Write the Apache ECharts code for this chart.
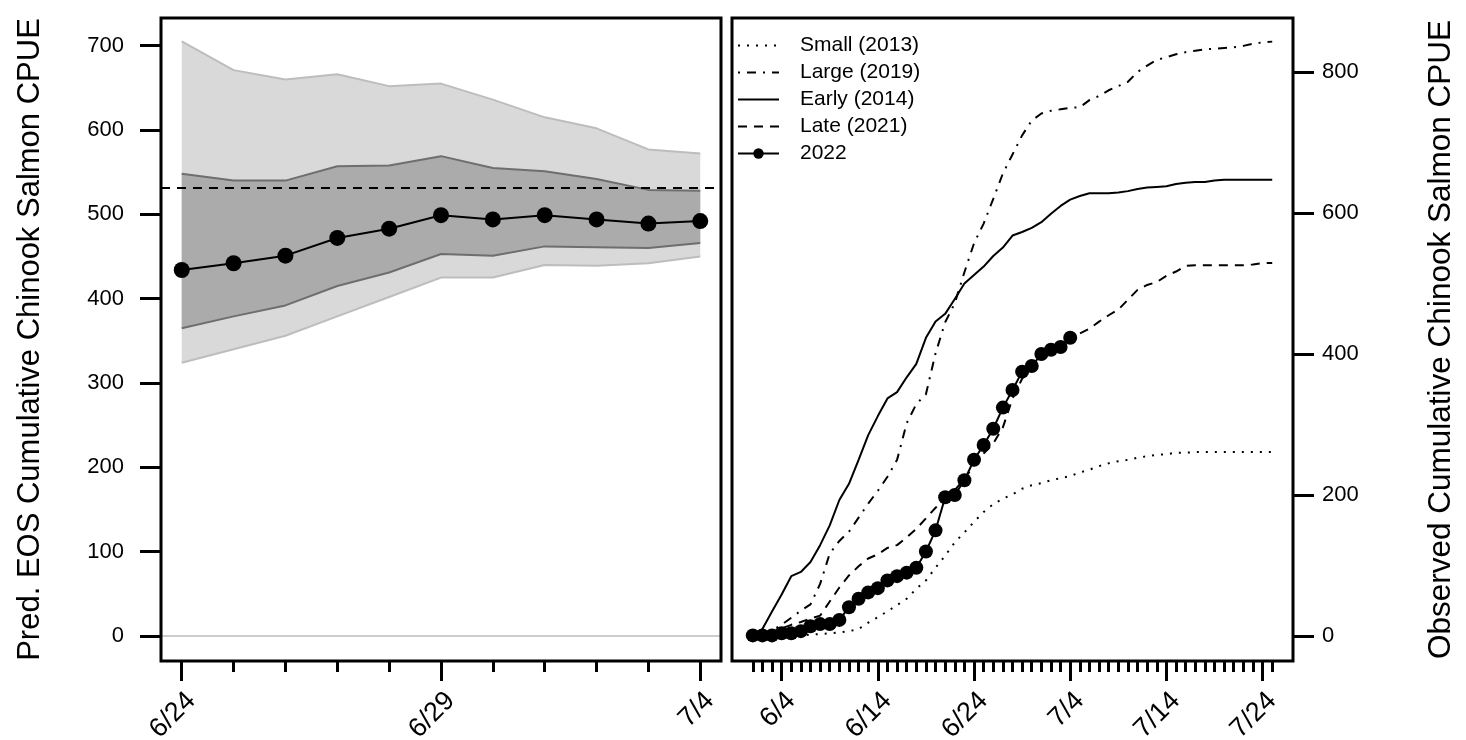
<!DOCTYPE html>
<html><head><meta charset="utf-8">
<script src="https://cdn.jsdelivr.net/npm/echarts@6/dist/echarts.min.js"></script>
<style>html,body{margin:0;padding:0;background:#fff}#c{width:1466px;height:740px}</style>
</head><body><div id="c"></div>
<script>
// ---------- Left panel data (prediction of end-of-season CPUE) ----------
const leftDates   = ['6/24','6/25','6/26','6/27','6/28','6/29','6/30','7/1','7/2','7/3','7/4'];
const leftTickMajor = [0, 5, 10];
const leftTickMinor = [1, 2, 3, 4, 6, 7, 8, 9];
const pred2022    = [434, 442, 451, 472, 483, 499, 494, 499, 494, 489, 492];
const ci50Upper   = [548, 540, 540, 557, 558, 569, 555, 551, 542, 529, 528];
const ci50Lower   = [365, 379, 392, 415, 431, 453, 451, 462, 461, 460, 466];
const ci90Upper   = [705, 671, 660, 666, 652, 655, 636, 615, 602, 577, 572];
const ci90Lower   = [324, 340, 356, 379, 402, 425, 425, 440, 439, 442, 450];
const eosReference = 532;
const leftYTicks  = [0, 100, 200, 300, 400, 500, 600, 700];

// ---------- Right panel data (observed cumulative CPUE, day 0 = 6/1) ----------
const rightTickDays   = [3, 13, 23, 33, 43, 53];
const rightTickLabels = ['6/4', '6/14', '6/24', '7/4', '7/14', '7/24'];
const rightYTicks     = [0, 200, 400, 600, 800];
const small2013 = [0,0,0,1,1,1,2,3,4,5,7,10,19,27,35,44,53,67,79,97,114,133,147,162,176,187,195,201,209,214,217,221,224,227,232,236,241,245,248,250,253,255,257,258,260,260,261,261,261,261,261,261,261,261,261];
const large2019 = [1,4,8,16,26,36,45,74,117,135,148,168,188,206,226,250,302,329,343,401,445,472,516,557,585,620,656,683,710,731,741,745,747,749,750,760,766,774,780,786,800,809,817,821,825,828,830,832,833,834,835,837,840,842,843];
const early2014 = [1,10,35,59,85,91,105,129,157,193,216,250,285,312,337,346,367,386,423,446,457,478,500,512,524,539,551,568,573,579,587,599,610,619,624,628,628,628,629,631,634,636,637,638,641,643,644,644,646,647,647,647,647,647,647];
const late2021  = [1,4,6,11,16,20,25,29,49,69,86,99,110,116,125,129,140,152,167,182,195,207,223,242,259,273,296,337,365,382,397,408,414,423,429,436,446,455,463,477,491,498,502,511,517,525,526,526,526,526,526,526,527,529,529];
const obs2022   = [1,1,1,4,4,7,14,17,17,23,41,53,62,68,79,85,90,97,120,150,197,200,221,250,271,294,324,349,375,383,400,406,410,423];
const rightNames = ['Small (2013)', 'Large (2019)', 'Early (2014)', 'Late (2021)', '2022'];

// ---------- helpers ----------
const FONT = '"Liberation Sans", Arial, Helvetica, sans-serif';
const idxPairs = ys => ys.map((v, i) => [i, v]);
const rightDaysAll = small2013.map((v, i) => i);
const rightMinor = rightDaysAll.filter(d => rightTickDays.indexOf(d) < 0);

const tickMajor = {length: 20, lineStyle: {width: 3, color: '#000'}};
const tickMinor = {length: 11, lineStyle: {width: 3, color: '#000'}};
const yLabel = {color: '#000', fontFamily: FONT, fontSize: 22};
const xLabel = {color: '#000', fontFamily: FONT, fontSize: 27, rotate: 45, margin: 26, align: 'right', verticalAlign: 'top',
                padding: [0, 0, 0, 0]};
const noLine = {show: false, onZero: false};

function bandSeries(upper, lower, fill, z) {
  return {
    type: 'custom', xAxisIndex: 0, yAxisIndex: 0, z: z, silent: true,
    data: upper.map((v, i) => [i, v, lower[i]]),
    encode: {x: 0, y: [1, 2]},
    renderItem: function (params, api) {
      if (params.dataIndex !== 0) return null;
      const pts = [];
      for (let i = 0; i < upper.length; i++) pts.push(api.coord([i, upper[i]]));
      for (let i = lower.length - 1; i >= 0; i--) pts.push(api.coord([i, lower[i]]));
      return {type: 'polygon', shape: {points: pts}, style: {fill: fill, stroke: null}};
    }
  };
}
function edgeSeries(vals, color, z) {
  return {type: 'line', xAxisIndex: 0, yAxisIndex: 0, data: idxPairs(vals), symbol: 'none', silent: true,
          lineStyle: {color: color, width: 2}, z: z};
}
const hiddenSym = {color: 'rgba(0,0,0,0)', borderColor: 'rgba(0,0,0,0)', borderWidth: 0};

const chart = echarts.init(document.getElementById('c'), null, {renderer: 'canvas'});
const option = {
  animation: false,
  backgroundColor: '#fff',
  grid: [
    {left: 161, top: 18, width: 560, height: 643, show: true, borderColor: '#000', borderWidth: 3,
     backgroundColor: 'transparent', z: 10, outerBoundsMode: 'none', containLabel: false},
    {left: 732, top: 18, width: 561, height: 643, show: true, borderColor: '#000', borderWidth: 3,
     backgroundColor: 'transparent', z: 10, outerBoundsMode: 'none', containLabel: false}
  ],
  legend: {
    data: [
      {name: rightNames[0], itemStyle: hiddenSym},
      {name: rightNames[1], itemStyle: hiddenSym},
      {name: rightNames[2], itemStyle: hiddenSym},
      {name: rightNames[3], itemStyle: hiddenSym},
      {name: rightNames[4]}
    ],
    orient: 'vertical', left: 737, top: 35, padding: 0,
    itemWidth: 41, itemHeight: 13, itemGap: 6,
    textStyle: {fontSize: 21, fontFamily: FONT, color: '#000', padding: [0, 0, 0, 16]}
  },
  xAxis: [
    {gridIndex: 0, type: 'value', position: 'bottom', min: -0.4, max: 10.4,
     axisLine: noLine, splitLine: {show: false},
     axisTick: Object.assign({show: true, customValues: leftTickMajor}, tickMajor),
     axisLabel: Object.assign({customValues: leftTickMajor, formatter: v => leftDates[Math.round(v)]}, xLabel)},
    {gridIndex: 0, type: 'value', position: 'bottom', min: -0.4, max: 10.4,
     axisLine: noLine, splitLine: {show: false},
     axisTick: Object.assign({show: true, customValues: leftTickMinor}, tickMinor),
     axisLabel: {show: false}},
    {gridIndex: 1, type: 'value', position: 'bottom', min: -2.16, max: 56.16,
     axisLine: noLine, splitLine: {show: false},
     axisTick: Object.assign({show: true, customValues: rightTickDays}, tickMajor),
     axisLabel: Object.assign({customValues: rightTickDays,
       formatter: v => rightTickLabels[rightTickDays.indexOf(Math.round(v))]}, xLabel)},
    {gridIndex: 1, type: 'value', position: 'bottom', min: -2.16, max: 56.16,
     axisLine: noLine, splitLine: {show: false},
     axisTick: Object.assign({show: true, customValues: rightMinor}, tickMinor),
     axisLabel: {show: false}}
  ],
  yAxis: [
    {gridIndex: 0, type: 'value', position: 'left', min: -29.6, max: 732.8,
     axisLine: noLine, splitLine: {show: false},
     axisTick: {show: true, customValues: leftYTicks, length: 21, lineStyle: {width: 3, color: '#000'}},
     axisLabel: Object.assign({customValues: leftYTicks, margin: 37}, yLabel),
     name: 'Pred. EOS Cumulative Chinook Salmon CPUE', nameLocation: 'middle', nameRotate: 90, nameGap: 115,
     nameTextStyle: {fontSize: 31, fontFamily: FONT, color: '#000'}},
    {gridIndex: 1, type: 'value', position: 'right', min: -35.3, max: 876.5,
     axisLine: noLine, splitLine: {show: false},
     axisTick: {show: true, customValues: rightYTicks, length: 21, lineStyle: {width: 3, color: '#000'}},
     axisLabel: Object.assign({customValues: rightYTicks, margin: 29}, yLabel),
     name: 'Observed Cumulative Chinook Salmon CPUE', nameLocation: 'middle', nameRotate: 90, nameGap: 132,
     nameTextStyle: {fontSize: 31.5, fontFamily: FONT, color: '#000'}}
  ],
  series: [
    bandSeries(ci90Upper, ci90Lower, '#d9d9d9', 1),
    edgeSeries(ci90Upper, '#bdbdbd', 2),
    edgeSeries(ci90Lower, '#bdbdbd', 2),
    bandSeries(ci50Upper, ci50Lower, '#ababab', 3),
    edgeSeries(ci50Upper, '#6e6e6e', 4),
    edgeSeries(ci50Lower, '#6e6e6e', 4),
    {name: 'pred', type: 'line', xAxisIndex: 0, yAxisIndex: 0, data: idxPairs(pred2022),
     symbol: 'circle', symbolSize: 16, showAllSymbol: true,
     itemStyle: {color: '#000'}, lineStyle: {color: '#000', width: 2}, z: 5,
     markLine: {silent: true, symbol: 'none', label: {show: false}, animation: false,
       data: [
         {yAxis: eosReference, lineStyle: {type: [9, 7], color: '#000', width: 2}},
         {yAxis: 0, lineStyle: {type: 'solid', color: '#bdbdbd', width: 1.5}}
       ]}},
    // right panel
    {name: rightNames[0], type: 'line', xAxisIndex: 2, yAxisIndex: 1, data: idxPairs(small2013), symbol: 'none',
     itemStyle: {color: '#000'}, lineStyle: {color: '#000', width: 2, type: [2, 7], cap: 'butt'}},
    {name: rightNames[1], type: 'line', xAxisIndex: 2, yAxisIndex: 1, data: idxPairs(large2019), symbol: 'none',
     itemStyle: {color: '#000'}, lineStyle: {color: '#000', width: 2, type: [2, 7, 9, 7], cap: 'butt'}},
    {name: rightNames[2], type: 'line', xAxisIndex: 2, yAxisIndex: 1, data: idxPairs(early2014), symbol: 'none',
     itemStyle: {color: '#000'}, lineStyle: {color: '#000', width: 2, type: 'solid'}},
    {name: rightNames[3], type: 'line', xAxisIndex: 2, yAxisIndex: 1, data: idxPairs(late2021), symbol: 'none',
     itemStyle: {color: '#000'}, lineStyle: {color: '#000', width: 2, type: [9, 7], cap: 'butt'}},
    {name: rightNames[4], type: 'line', xAxisIndex: 2, yAxisIndex: 1, data: idxPairs(obs2022),
     symbol: 'circle', symbolSize: 14, showAllSymbol: true,
     itemStyle: {color: '#000'}, lineStyle: {color: '#000', width: 2}, z: 4}
  ]
};
chart.setOption(option);
</script></body></html>
